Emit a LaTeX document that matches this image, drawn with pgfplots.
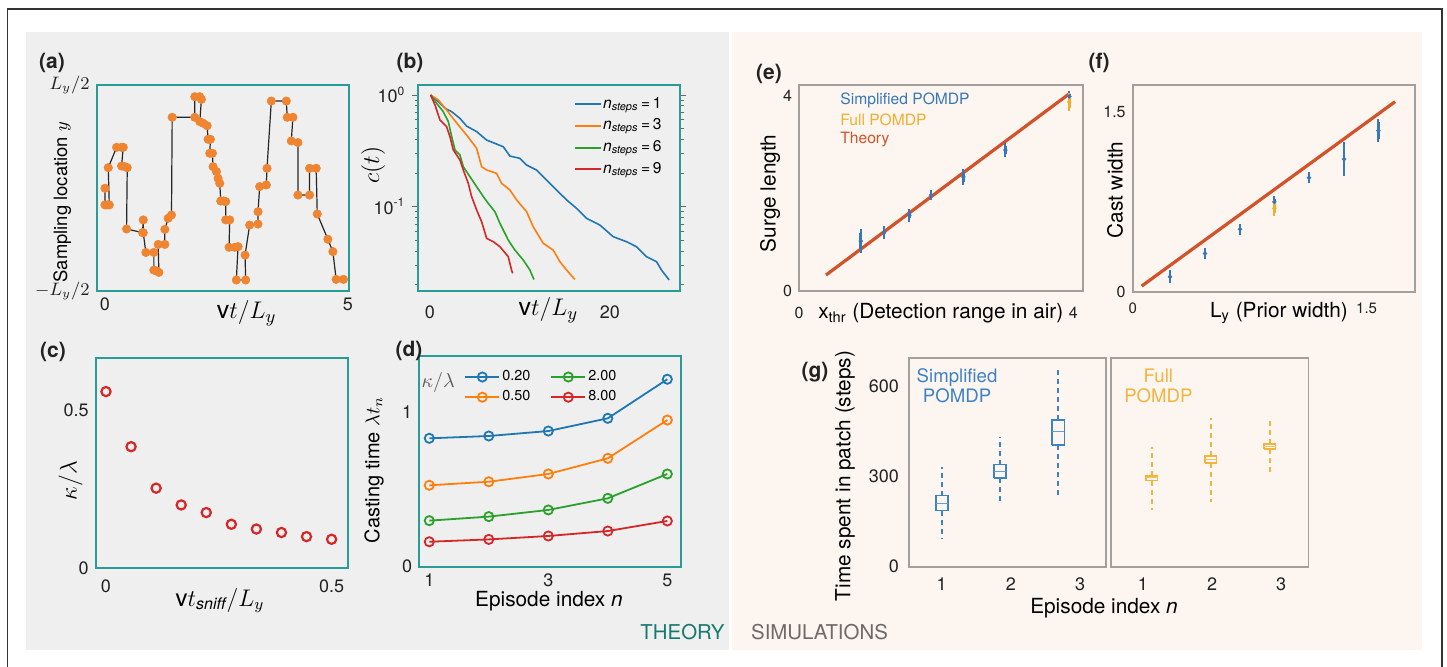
\documentclass[border=0pt]{standalone}
\usepackage{pgfplots}
\pgfplotsset{compat=1.18}
\usepackage{fontspec}
\setmainfont{TeX Gyre Heros}
\newcommand\fs[1]{\fontsize{#1}{#1}\selectfont}
\definecolor{bggrey}{HTML}{EEEFEE}
\definecolor{bgpeach}{HTML}{FDF5EF}
\definecolor{tealf}{HTML}{2A9C98}
\definecolor{framegrey}{HTML}{A39F9C}
\definecolor{orangeA}{HTML}{EF8431}
\definecolor{mblue}{HTML}{1F77B4}
\definecolor{morange}{HTML}{FF7F0E}
\definecolor{mgreen}{HTML}{2CA02C}
\definecolor{mred}{HTML}{D62728}
\definecolor{blueE}{HTML}{3778BD}
\definecolor{orangeE}{HTML}{EFAF2F}
\definecolor{theoryred}{HTML}{D2522A}
\definecolor{blueG}{HTML}{3E82C6}
\definecolor{orangeG}{HTML}{F2B43C}
\definecolor{theoryteal}{HTML}{177A6E}
\definecolor{simgrey}{HTML}{6E6A68}
\definecolor{ink}{HTML}{222222}
\pgfplotsset{
  panel/.style={scale only axis, anchor=north west,
    axis line style={line width=0.9pt},
    major tick length=0pt, minor tick length=0pt,
    tick label style={font=\fs{9}, text=ink},
    /pgf/number format/assume math mode=true,
    label style={text=ink}},
  ylab/.style 2 args={every axis y label/.style={at={(axis description cs:#1,#2)}, rotate=90, anchor=center}},
  xlab/.style 2 args={every axis x label/.style={at={(axis description cs:#1,#2)}, anchor=center}},
  ebar/.style={only marks, mark=*, mark size=0.9pt, #1,
    error bars/.cd, y dir=both, y explicit, error mark=-,
    error bar style={draw=#1, line width=1.3pt},
    error mark options={draw=#1, line width=1pt, mark size=1.6pt}},
}
% box: colour, x left, x centre, x right, lower whisker, lower quartile, median, upper quartile, upper whisker
\newcommand\bx[9]{%
\addplot[#1, line width=0.8pt] coordinates {(#2,#6) (#4,#6) (#4,#8) (#2,#8) (#2,#6)};
\addplot[#1!80, line width=0.5pt] coordinates {(#2,#7) (#4,#7)};
\addplot[#1, line width=0.8pt, dash pattern=on 2.5pt off 2pt] coordinates {(#3,#6) (#3,#5)};
\addplot[#1, line width=0.8pt, dash pattern=on 2.5pt off 2pt] coordinates {(#3,#8) (#3,#9)};}
\begin{document}
\begin{tikzpicture}[x=0.5pt,y=-0.5pt]
\path[use as bounding box] (0,0) rectangle (1447,667);
\fill[white] (0,0) rectangle (1447,667);
\fill[bggrey] (26,32) rectangle (728.5,650);
\fill[bgpeach] (732,32) rectangle (1421.7,650);
\draw[line width=0.6pt, black!80] (7.5,667) -- (7.5,9) -- (1442,9) -- (1442,667);

% ---------------- (a)
\begin{axis}[panel, at={(48.35pt,-42.5pt)}, width=126.3pt, height=102.85pt,
  axis line style={tealf},
  xmin=-0.17, xmax=5.03, ymin=-0.5, ymax=0.5,
  xtick={0,5}, ytick={-0.5,0.5}, yticklabels={$-L_y/2$,$L_y/2$},
  ylab={-0.136}{0.43}, xlab={0.594}{-0.11},
  ylabel={\fs{9.2}Sampling location $y$},
  xlabel={\fs{12.5}$\mathrm{v}t/L_y$}]
\addplot[black!85, line width=0.6pt, mark=*, mark size=2.1pt,
  mark options={orangeA, solid, line width=0.3pt}] coordinates {
(0,-0.002) (0,-0.083) (0.048,-0.083) (0.089,-0.083) (0.068,0.098) (0.240,0.197)
(0.342,0.197) (0.377,0.197) (0.342,0.106) (0.411,0.103) (0.459,0.098) (0.445,-0.200)
(0.774,-0.218) (0.788,-0.156) (0.788,-0.218) (0.842,-0.314) (1.007,-0.314) (1.007,-0.400)
(1.062,-0.404) (1.110,-0.411) (1.096,-0.275) (1.233,-0.275) (1.233,-0.202) (1.301,-0.148)
(1.370,-0.132) (1.384,0.343) (1.849,0.343) (1.849,0.443) (1.952,0.443) (1.986,0.430)
(1.952,0.322) (2.021,0.314) (2.103,0.302) (2.123,0.236) (2.171,0.236) (2.158,0.168)
(2.212,0.168) (2.226,0.103) (2.295,0.079) (2.329,0.046) (2.363,0.022) (2.384,-0.064)
(2.445,-0.064) (2.486,-0.067) (2.486,-0.156) (2.568,-0.156) (2.555,-0.289) (2.671,-0.289)
(2.740,-0.286) (2.705,-0.448) (2.897,-0.448) (2.884,-0.327) (2.979,-0.181) (3.151,-0.176)
(3.151,-0.116) (3.185,0.006) (3.322,0.014) (3.336,0.095) (3.425,0.422) (3.733,0.422)
(3.753,0.343) (3.870,0.343) (3.836,0.228) (3.973,0.220) (3.973,-0.035) (4.212,-0.035)
(4.212,0.095) (4.349,0.095) (4.370,-0.127) (4.589,-0.250) (4.692,-0.310) (4.760,-0.445)
(4.911,-0.445)};
\end{axis}

% ---------------- (b)
\begin{axis}[panel, at={(209.15pt,-42.5pt)}, width=130.85pt, height=102.85pt,
  axis line style={tealf}, ymode=log,
  xmin=-1.3, xmax=27.8, ymin=0.0177, ymax=1.229,
  xtick={0,20}, ytick={0.1,1}, yticklabels={10\textsuperscript{-1},10\textsuperscript{0}},
  minor ytick={0.02,0.03,0.04,0.05,0.06,0.07,0.08,0.09,0.2,0.3,0.4,0.5,0.6,0.7,0.8,0.9},
  ytick style={draw=black!60, line width=0.4pt}, tick align=outside,
  major tick length=3pt, minor tick length=1.8pt, xtick style={draw=none},
  xticklabel style={yshift=-1pt},
  ylab={-0.173}{0.611}, xlab={0.497}{-0.094},
  ylabel={\fs{12}$c(t)$}, xlabel={\fs{12.5}$\mathrm{v}t/L_y$},
  legend style={at={(0.57,0.968)}, anchor=north west, draw=none, fill=none,
    font=\fs{7.8}, row sep=2.6pt, nodes={inner sep=0.6pt}},
  legend cell align=left,
  legend image code/.code={\draw[#1, line width=1pt] (0pt,0pt) -- (13pt,0pt);}]
\addplot[mblue, line width=0.8pt] coordinates {
(0.07,1.0) (0.93,0.871) (1.67,0.760) (2.41,0.709) (3.33,0.618) (4.07,0.527) (5.19,0.470)
(6.30,0.395) (7.22,0.369) (8.15,0.344) (8.89,0.284) (10.0,0.271) (10.74,0.236) (11.85,0.213)
(12.96,0.173) (14.07,0.141) (15.19,0.115) (16.30,0.0966) (17.41,0.0787) (18.89,0.0685)
(20.37,0.0539) (21.85,0.0486) (22.96,0.0438) (24.07,0.0357) (25.19,0.0322) (25.74,0.0271)
(26.59,0.0221)};
\addlegendentry{\textit{n}\textsubscript{\textit{steps}}\,=\,1}
\addplot[morange, line width=0.8pt] coordinates {
(0.07,1.0) (0.93,0.902) (1.85,0.734) (2.41,0.640) (3.15,0.539) (4.07,0.438) (5.19,0.333)
(5.74,0.228) (6.30,0.213) (7.41,0.199) (7.96,0.162) (8.89,0.141) (9.63,0.115) (10.74,0.0902)
(11.48,0.0662) (12.59,0.0470) (13.70,0.0409) (14.44,0.0322) (15.19,0.0271) (16.11,0.0223)};
\addlegendentry{\textit{n}\textsubscript{\textit{steps}}\,=\,3}
\addplot[mgreen, line width=0.8pt] coordinates {
(0.07,1.0) (0.74,0.842) (1.48,0.709) (2.04,0.577) (2.41,0.424) (2.78,0.322) (3.33,0.290)
(3.70,0.228) (4.44,0.186) (5.19,0.151) (5.93,0.123) (6.48,0.107) (7.22,0.0902) (7.78,0.0709)
(8.70,0.0503) (9.44,0.0409) (10.37,0.0333) (11.11,0.0271) (11.56,0.0223)};
\addlegendentry{\textit{n}\textsubscript{\textit{steps}}\,=\,6}
\addplot[mred, line width=0.8pt] coordinates {
(0.07,1.0) (0.56,0.813) (1.11,0.597) (1.85,0.520) (2.22,0.424) (2.59,0.322) (3.33,0.262)
(3.70,0.213) (4.26,0.162) (4.63,0.123) (5.19,0.0934) (5.74,0.0734) (6.30,0.0520) (7.04,0.0486)
(7.78,0.0438) (8.70,0.0357) (9.07,0.0271) (9.19,0.0253)};
\addlegendentry{\textit{n}\textsubscript{\textit{steps}}\,=\,9}
\end{axis}

% ---------------- (c)
\begin{axis}[panel, at={(47.85pt,-178.85pt)}, width=126.3pt, height=105.3pt,
  axis line style={tealf},
  xmin=-0.0228, xmax=0.537, ymin=0, ymax=0.665,
  xtick={0,0.5}, ytick={0,0.5}, xticklabel style={yshift=-2pt},
  ylab={-0.099}{0.416}, xlab={0.492}{-0.154},
  ylabel={\fs{12}$\kappa/\lambda$}, xlabel={\fs{12}$\mathrm{v}t_{\mathit{sniff}}/L_y$}]
\addplot[only marks, mark=o, mark size=2.3pt, mark options={draw=mred, line width=1.1pt}] coordinates {
(0,0.558) (0.0556,0.384) (0.1111,0.253) (0.1667,0.200) (0.2222,0.176) (0.2778,0.139)
(0.3333,0.124) (0.3889,0.113) (0.4444,0.100) (0.5,0.0916)};
\end{axis}

% ---------------- (d)
\begin{axis}[panel, at={(209.65pt,-178pt)}, width=130.7pt, height=105.35pt,
  axis line style={tealf},
  xmin=0.832, xmax=5.225, ymin=0, ymax=1.359,
  xtick={1,3,5}, ytick={0,1},
  ylab={-0.173}{0.459}, xlab={0.496}{-0.166},
  ylabel={\fs{10}Casting time $\lambda t_n$}, xlabel={\fs{10.4}Episode index \textit{n}},
  legend columns=2, transpose legend,
  legend style={at={(0.148,0.962)}, anchor=north west, draw=none, fill=none,
    font=\fs{7.2}, row sep=1.5pt, nodes={inner sep=1pt},
    /tikz/every even column/.append style={column sep=9pt}},
  legend cell align=left]
\addplot[mblue, line width=0.9pt, mark=o, mark size=2.3pt, mark options={fill=bggrey, line width=0.9pt}] coordinates {(1,0.828) (2,0.843) (3,0.875) (4,0.957) (5,1.209)};
\addlegendentry{0.20}
\addplot[morange, line width=0.9pt, mark=o, mark size=2.3pt, mark options={fill=bggrey, line width=0.9pt}] coordinates {(1,0.525) (2,0.548) (3,0.598) (4,0.699) (5,0.946)};
\addlegendentry{0.50}
\addplot[mgreen, line width=0.9pt, mark=o, mark size=2.3pt, mark options={fill=bggrey, line width=0.9pt}] coordinates {(1,0.297) (2,0.323) (3,0.366) (4,0.441) (5,0.598)};
\addlegendentry{2.00}
\addplot[mred, line width=0.9pt, mark=o, mark size=2.3pt, mark options={fill=bggrey, line width=0.9pt}] coordinates {(1,0.161) (2,0.176) (3,0.198) (4,0.230) (5,0.295)};
\addlegendentry{8.00}
\node[text=black!65, font=\fs{10}] at (axis description cs:0.072,0.876) {$\kappa/\lambda$};
\end{axis}

% ---------------- (e)
\begin{axis}[panel, at={(399.5pt,-42.5pt)}, width=141.85pt, height=102.85pt,
  axis line style={framegrey},
  tick label style={font=\fs{8}},
  xmin=0, xmax=4.136, ymin=0, ymax=4.22,
  xtick={0,4}, ytick={0,4}, xticklabel style={yshift=-4.5pt},
  ylab={-0.102}{0.473}, xlab={0.5}{-0.11},
  ylabel={\fs{10.4}Surge length},
  xlabel={\fs{10.4}x\textsubscript{thr} (Detection range in air)}]
\addplot[theoryred, line width=1.6pt] coordinates {(0.394,0.322) (3.95,4.05)};
\addplot[ebar=blueE] table[x=x, y=y, y error=e] {
x y e
0.899 1.02 0.172
1.239 1.19 0.07
1.609 1.545 0.06
1.925 1.96 0.03
2.396 2.336 0.096
3.009 2.884 0.076
3.942 3.985 0.055
};
\addplot[ebar=orangeE] table[x=x, y=y, y error=e] {
x y e
3.942 3.867 0.12
};
\node[anchor=west, text=blueE, font=\fs{7.8}, inner sep=0pt] at (axis description cs:0.1445,0.927) {Simplified POMDP};
\node[anchor=west, text=orangeE, font=\fs{7.8}, inner sep=0pt] at (axis description cs:0.1445,0.83) {Full POMDP};
\node[anchor=west, text=theoryred, font=\fs{7.8}, inner sep=0pt] at (axis description cs:0.1445,0.733) {Theory};
\end{axis}

% ---------------- (f)
\begin{axis}[panel, at={(566.35pt,-42.5pt)}, width=141.15pt, height=103.35pt,
  axis line style={framegrey},
  tick label style={font=\fs{8}},
  xmin=0, xmax=1.81, ymin=0, ymax=1.7225,
  xtick={0,1.5}, ytick={0,1.5}, xticklabel style={yshift=-2pt, font=\fs{7.5}},
  ylab={-0.0627}{0.492}, xlab={0.518}{-0.105},
  ylabel={\fs{10.4}Cast width},
  xlabel={\fs{10.4}L\textsubscript{y} (Prior width)}]
\addplot[theoryred, line width=1.6pt] coordinates {(0.0577,0.047) (1.682,1.583)};
\addplot[ebar=blueE] table[x=x, y=y, y error=e] {
x y e
0.239 0.124 0.028
0.464 0.318 0.021
0.688 0.52 0.017
0.908 0.749 0.02
1.130 0.95 0.02
1.355 1.105 0.114
1.575 1.342 0.068
};
\addplot[ebar=orangeE] table[x=x, y=y, y error=e] {
x y e
0.908 0.695 0.04
};
\end{axis}

% ---------------- (g) left
\begin{axis}[panel, at={(454.5pt,-178.85pt)}, width=98.5pt, height=104.5pt,
  axis line style={framegrey},
  xmin=0.527, xmax=3.376, ymin=0, ymax=696,
  xtick={1,2,3}, ytick={0,300,600}, yticklabel style={xshift=-1.5pt},
  xticklabel style={yshift=-2pt},
  ylab={-0.325}{0.434}, xlab={0.99}{-0.199},
  ylabel={\fs{10.4}Time spent in patch (steps)},
  xlabel={\fs{10.4}Episode index \textit{n}}]
\bx{blueG}{0.915}{1.004}{1.093}{93}{187}{211}{237}{331}
\bx{blueG}{1.753}{1.842}{1.931}{207}{296}{318}{340}{431}
\bx{blueG}{2.596}{2.685}{2.774}{237}{405}{449}{489}{658}
\node[text=blueG, font=\fontsize{9.3}{9.8}\selectfont, align=center, inner sep=0pt] at (axis description cs:0.244,0.865) {Simplified\\POMDP};
\end{axis}

% ---------------- (g) right
\begin{axis}[panel, at={(555.5pt,-178.85pt)}, width=98.7pt, height=104.5pt,
  axis line style={framegrey},
  xmin=0.539, xmax=3.393, ymin=0, ymax=696,
  xtick={1,2,3}, ytick={300}, yticklabels={}, xticklabel style={yshift=-2pt}]
\bx{orangeG}{1.045}{1.129}{1.213}{189}{287}{296}{303}{397}
\bx{orangeG}{1.898}{1.982}{2.066}{217}{345}{356}{368}{495}
\bx{orangeG}{2.751}{2.835}{2.919}{306}{392}{401}{408}{495}
\node[text=orangeG, font=\fontsize{9.3}{9.8}\selectfont, align=center, inner sep=0pt] at (axis description cs:0.24,0.865) {Full\\POMDP};
\end{axis}

% ---------------- panel letters and section labels
\begin{scope}[every node/.style={font=\fs{10.5}\bfseries, text=ink, inner sep=0pt}]
\node at (52,63) {(a)};
\node at (410,63) {(b)};
\node at (53,352) {(c)};
\node at (409,351) {(d)};
\node at (769,74) {(e)};
\node at (1099,63) {(f)};
\node at (815,372) {(g)};
\end{scope}
\node[font=\fs{10.2}, text=theoryteal, inner sep=0pt] at (682.5,632) {THEORY};
\node[font=\fs{10.2}, text=simgrey, inner sep=0pt] at (819.5,632) {SIMULATIONS};
\end{tikzpicture}
\end{document}
